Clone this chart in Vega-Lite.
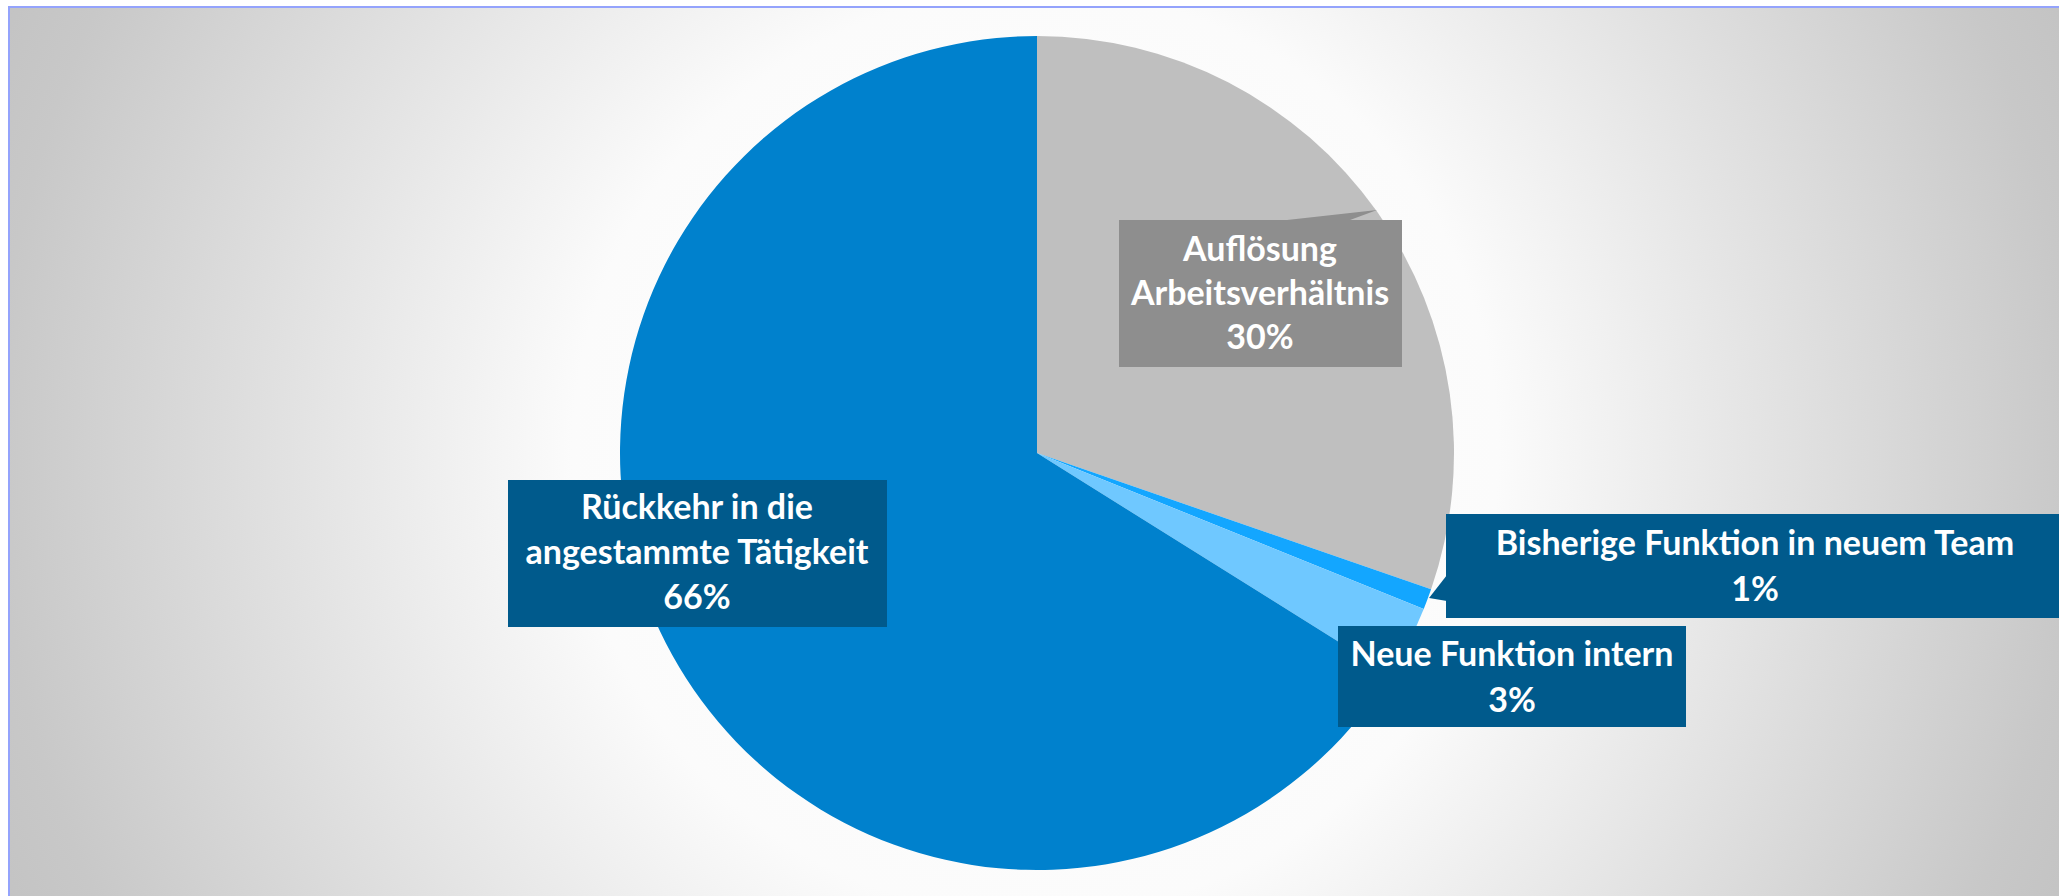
{
  "$schema": "https://vega.github.io/schema/vega-lite/v6.json",
  "autosize": {"type": "fit", "contains": "padding"},
  "width": 2059,
  "height": 896,
  "padding": {"left": 9, "top": 7, "right": -3, "bottom": -3},
  "background": "white",
  "config": {
    "view": {
      "stroke": "#94a3fc",
      "strokeWidth": 2,
      "fill": {
        "gradient": "radial",
        "x1": 0.5, "y1": 0.5, "r1": 0,
        "x2": 0.5, "y2": 0.5, "r2": 0.55,
        "stops": [
          {"offset": 0, "color": "#ffffff"},
          {"offset": 0.41, "color": "#fbfbfb"},
          {"offset": 0.92, "color": "#c8c8c8"},
          {"offset": 1, "color": "#c3c3c3"}
        ]
      }
    }
  },
  "data": {
    "values": [
      {"cat": "Auflösung Arbeitsverhältnis", "value": 30.3, "label": "Auflösung\nArbeitsverhältnis\n30%"},
      {"cat": "Bisherige Funktion in neuem Team", "value": 0.8, "label": "Bisherige Funktion in neuem Team\n1%"},
      {"cat": "Neue Funktion intern", "value": 2.8, "label": "Neue Funktion intern\n3%"},
      {"cat": "Rückkehr in die angestammte Tätigkeit", "value": 66.1, "label": "Rückkehr in die\nangestammte Tätigkeit\n66%"}
    ]
  },
  "layer": [
    {
      "mark": {"type": "arc", "outerRadius": 417, "strokeWidth": 0},
      "encoding": {
        "theta": {"field": "value", "type": "quantitative", "stack": true},
        "color": {
          "field": "cat", "type": "nominal", "legend": null,
          "sort": ["Auflösung Arbeitsverhältnis", "Bisherige Funktion in neuem Team", "Neue Funktion intern", "Rückkehr in die angestammte Tätigkeit"],
          "scale": {
            "domain": ["Auflösung Arbeitsverhältnis", "Bisherige Funktion in neuem Team", "Neue Funktion intern", "Rückkehr in die angestammte Tätigkeit"],
            "range": ["#bfbfbf", "#13a6ff", "#6fc8ff", "#0081cd"]
          }
        },
        "x": {"datum": 1037, "type": "quantitative", "scale": {"domain": [9, 2062], "nice": false, "zero": false}, "axis": null},
        "y": {"datum": 453, "type": "quantitative", "scale": {"domain": [7, 899], "nice": false, "zero": false, "reverse": true}, "axis": null}
      }
    },
    {
      "transform": [{"filter": "datum.cat === 'Auflösung Arbeitsverhältnis'"}],
      "layer": [
        {
          "mark": {"type": "point", "shape": "M-1,0 L0.43,-0.16 L0,0 Z", "filled": true, "color": "#8e8e8e", "opacity": 1, "size": 15876, "strokeWidth": 0},
          "encoding": {"x": {"datum": 1350, "type": "quantitative"}, "y": {"datum": 220, "type": "quantitative"}}
        },
        {
          "mark": {"type": "rect", "color": "#000000", "opacity": 0.12, "xOffset": 5, "yOffset": 6},
          "encoding": {"x": {"datum": 1119, "type": "quantitative"}, "x2": {"datum": 1402}, "y": {"datum": 220, "type": "quantitative"}, "y2": {"datum": 367}}
        },
        {
          "mark": {"type": "rect", "color": "#000000", "opacity": 0.22, "xOffset": 3, "yOffset": 3},
          "encoding": {"x": {"datum": 1119, "type": "quantitative"}, "x2": {"datum": 1402}, "y": {"datum": 220, "type": "quantitative"}, "y2": {"datum": 367}}
        },
        {
          "mark": {"type": "rect", "color": "#8e8e8e", "opacity": 1},
          "encoding": {"x": {"datum": 1119, "type": "quantitative"}, "x2": {"datum": 1402}, "y": {"datum": 220, "type": "quantitative"}, "y2": {"datum": 367}}
        },
        {
          "mark": {"type": "text", "font": "Lato", "fontWeight": "bold", "fontSize": 34, "lineHeight": 44, "lineBreak": "\n", "color": "white", "align": "center", "baseline": "alphabetic"},
          "encoding": {"text": {"field": "label"}, "x": {"datum": 1260, "type": "quantitative"}, "y": {"datum": 261, "type": "quantitative"}}
        }
      ]
    },
    {
      "transform": [{"filter": "datum.cat === 'Rückkehr in die angestammte Tätigkeit'"}],
      "layer": [
        {
          "mark": {"type": "rect", "color": "#000000", "opacity": 0.12, "xOffset": 5, "yOffset": 6},
          "encoding": {"x": {"datum": 508, "type": "quantitative"}, "x2": {"datum": 887}, "y": {"datum": 480, "type": "quantitative"}, "y2": {"datum": 627}}
        },
        {
          "mark": {"type": "rect", "color": "#000000", "opacity": 0.22, "xOffset": 3, "yOffset": 3},
          "encoding": {"x": {"datum": 508, "type": "quantitative"}, "x2": {"datum": 887}, "y": {"datum": 480, "type": "quantitative"}, "y2": {"datum": 627}}
        },
        {
          "mark": {"type": "rect", "color": "#005a8c", "opacity": 1},
          "encoding": {"x": {"datum": 508, "type": "quantitative"}, "x2": {"datum": 887}, "y": {"datum": 480, "type": "quantitative"}, "y2": {"datum": 627}}
        },
        {
          "mark": {"type": "text", "font": "Lato", "fontWeight": "bold", "fontSize": 34, "lineHeight": 45, "lineBreak": "\n", "color": "white", "align": "center", "baseline": "alphabetic"},
          "encoding": {"text": {"field": "label"}, "x": {"datum": 697, "type": "quantitative"}, "y": {"datum": 519, "type": "quantitative"}}
        }
      ]
    },
    {
      "transform": [{"filter": "datum.cat === 'Bisherige Funktion in neuem Team'"}],
      "layer": [
        {
          "mark": {"type": "point", "shape": "M0,-1 L-0.69,-0.115 L0,0 Z", "filled": true, "color": "#005a8c", "opacity": 1, "size": 2704, "strokeWidth": 0},
          "encoding": {"x": {"datum": 1447, "type": "quantitative"}, "y": {"datum": 601, "type": "quantitative"}}
        },
        {
          "mark": {"type": "rect", "color": "#000000", "opacity": 0.12, "xOffset": 5, "yOffset": 6},
          "encoding": {"x": {"datum": 1446, "type": "quantitative"}, "x2": {"datum": 2062}, "y": {"datum": 514, "type": "quantitative"}, "y2": {"datum": 618}}
        },
        {
          "mark": {"type": "rect", "color": "#000000", "opacity": 0.22, "xOffset": 3, "yOffset": 3},
          "encoding": {"x": {"datum": 1446, "type": "quantitative"}, "x2": {"datum": 2062}, "y": {"datum": 514, "type": "quantitative"}, "y2": {"datum": 618}}
        },
        {
          "mark": {"type": "rect", "color": "#005a8c", "opacity": 1},
          "encoding": {"x": {"datum": 1446, "type": "quantitative"}, "x2": {"datum": 2062}, "y": {"datum": 514, "type": "quantitative"}, "y2": {"datum": 618}}
        },
        {
          "mark": {"type": "text", "font": "Lato", "fontWeight": "bold", "fontSize": 34, "lineHeight": 46, "lineBreak": "\n", "color": "white", "align": "center", "baseline": "alphabetic"},
          "encoding": {"text": {"field": "label"}, "x": {"datum": 1755, "type": "quantitative"}, "y": {"datum": 555, "type": "quantitative"}}
        }
      ]
    },
    {
      "transform": [{"filter": "datum.cat === 'Neue Funktion intern'"}],
      "layer": [
        {
          "mark": {"type": "rect", "color": "#000000", "opacity": 0.12, "xOffset": 5, "yOffset": 6},
          "encoding": {"x": {"datum": 1338, "type": "quantitative"}, "x2": {"datum": 1686}, "y": {"datum": 626, "type": "quantitative"}, "y2": {"datum": 727}}
        },
        {
          "mark": {"type": "rect", "color": "#000000", "opacity": 0.22, "xOffset": 3, "yOffset": 3},
          "encoding": {"x": {"datum": 1338, "type": "quantitative"}, "x2": {"datum": 1686}, "y": {"datum": 626, "type": "quantitative"}, "y2": {"datum": 727}}
        },
        {
          "mark": {"type": "rect", "color": "#005a8c", "opacity": 1},
          "encoding": {"x": {"datum": 1338, "type": "quantitative"}, "x2": {"datum": 1686}, "y": {"datum": 626, "type": "quantitative"}, "y2": {"datum": 727}}
        },
        {
          "mark": {"type": "text", "font": "Lato", "fontWeight": "bold", "fontSize": 34, "lineHeight": 46, "lineBreak": "\n", "color": "white", "align": "center", "baseline": "alphabetic"},
          "encoding": {"text": {"field": "label"}, "x": {"datum": 1512, "type": "quantitative"}, "y": {"datum": 666, "type": "quantitative"}}
        }
      ]
    }
  ]
}
